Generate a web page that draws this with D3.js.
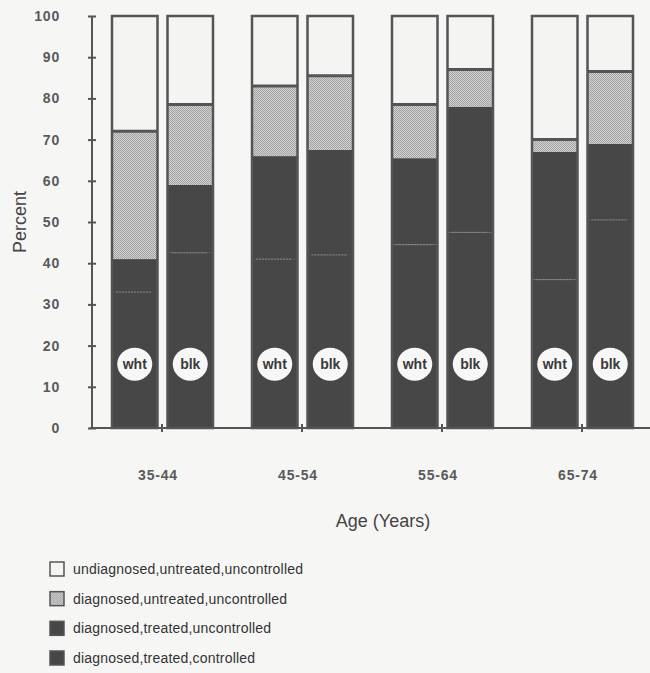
<!DOCTYPE html>
<html>
<head>
<meta charset="utf-8">
<script src="https://cdn.jsdelivr.net/npm/d3@7"></script>
<style>
  body { margin: 0; background: #f6f6f5; }
  svg { font-family: "Liberation Sans", Arial, sans-serif; }
  .axis path, .axis line { stroke: #555; stroke-width: 2; }
  .axis text { fill: #5a5a5a; font-size: 14px; font-weight: bold; letter-spacing: 0.8px; }
</style>
</head>
<body>
<script>
// age groups and the two races drawn in each group
var groups = ['35-44', '45-54', '55-64', '65-74'];
var races = ['wht', 'blk'];

// percent values, one entry per bar, order: 35-44 wht, 35-44 blk, 45-54 wht, ...
var controlled          = [33, 42.5, 41, 42, 44.5, 47.5, 36, 50.5];
var treatedUncontrolled = [8, 16.5, 25, 25.5, 21, 30.5, 31, 18.5];
var untreated           = [31, 19.5, 17, 18, 13, 9, 3, 17.5];
var undiagnosed         = [28, 21.5, 17, 14.5, 21.5, 13, 30, 13.5];

var yTicks = [0, 10, 20, 30, 40, 50, 60, 70, 80, 90, 100];

var legendLabels = ['undiagnosed,untreated,uncontrolled',
                    'diagnosed,untreated,uncontrolled',
                    'diagnosed,treated,uncontrolled',
                    'diagnosed,treated,controlled'];

var W = 650, H = 673;
var dark = '#474747', line = '#555';

// build one row per bar from the arrays
var bars = [];
groups.forEach(function(g, gi) {
    races.forEach(function(r, ri) {
        var i = gi * 2 + ri;
        bars.push({group: g, race: r,
                   controlled: controlled[i],
                   treatedUncontrolled: treatedUncontrolled[i],
                   untreated: untreated[i],
                   undiagnosed: undiagnosed[i]});
    });
});
var keys = ['controlled', 'treatedUncontrolled', 'untreated', 'undiagnosed'];
var stacked = d3.stack().keys(keys)(bars);

var svg = d3.select('body').append('svg')
    .attr('width', W).attr('height', H);

// stipple pattern for the "untreated" layer
var defs = svg.append('defs');
var pat = defs.append('pattern').attr('id', 'stip')
    .attr('width', 2).attr('height', 2).attr('patternUnits', 'userSpaceOnUse');
pat.append('rect').attr('width', 2).attr('height', 2).attr('fill', '#d4d4d4');
pat.append('rect').attr('width', 1).attr('height', 1).attr('fill', '#a0a0a0');
pat.append('rect').attr('x', 1).attr('y', 1).attr('width', 1).attr('height', 1).attr('fill', '#a0a0a0');

var fills = {controlled: dark, treatedUncontrolled: dark, untreated: 'url(#stip)', undiagnosed: '#f4f4f3'};

var x0 = d3.scaleBand().domain(groups).range([92, 652]);
var x1 = d3.scaleBand().domain(races).range([20, 121]).paddingInner(0.18);
var y = d3.scaleLinear().domain([0, 100]).range([428, 16]);

function barX(d) { return x0(d.group) + x1(d.race); }

// stacked layers
stacked.forEach(function(layer) {
    svg.append('g').selectAll('rect').data(layer).join('rect')
        .attr('x', function(d) { return barX(d.data); })
        .attr('width', x1.bandwidth())
        .attr('y', function(d) { return y(d[1]); })
        .attr('height', function(d) { return y(d[0]) - y(d[1]); })
        .attr('fill', fills[layer.key]);
});

// faint line between controlled and treated-uncontrolled
svg.append('g').selectAll('line').data(stacked[0]).join('line')
    .attr('x1', function(d) { return barX(d.data) + 4; })
    .attr('x2', function(d) { return barX(d.data) + x1.bandwidth() - 6; })
    .attr('y1', function(d) { return y(d[1]); })
    .attr('y2', function(d) { return y(d[1]); })
    .attr('stroke', '#8a8a8a').attr('stroke-width', 1).attr('stroke-dasharray', '2,1');

// thick line on top of the stipple layer
svg.append('g').selectAll('line').data(stacked[2]).join('line')
    .attr('x1', function(d) { return barX(d.data); })
    .attr('x2', function(d) { return barX(d.data) + x1.bandwidth(); })
    .attr('y1', function(d) { return y(d[1]); })
    .attr('y2', function(d) { return y(d[1]); })
    .attr('stroke', line).attr('stroke-width', 3);

// bar outlines
svg.append('g').selectAll('rect').data(stacked[3]).join('rect')
    .attr('x', function(d) { return barX(d.data); })
    .attr('width', x1.bandwidth())
    .attr('y', function(d) { return y(d[1]); })
    .attr('height', function(d) { return y(0) - y(d[1]); })
    .attr('fill', 'none').attr('stroke', line).attr('stroke-width', 2.5);

// race labels in white ovals
var lab = svg.append('g').selectAll('g').data(bars).join('g')
    .attr('transform', function(d) {
        return 'translate(' + (barX(d) + x1.bandwidth() / 2) + ',' + y(15.5) + ')';
    });
lab.append('ellipse').attr('rx', 17.5).attr('ry', 16.5).attr('fill', '#f7f7f7');
lab.append('text').attr('text-anchor', 'middle').attr('dy', '0.35em')
    .style('font-size', '14px').style('font-weight', 'bold').style('fill', '#3a3a3a')
    .text(function(d) { return d.race; });

// y axis (ticks cross the line)
var yAxis = svg.append('g').attr('class', 'axis')
    .attr('transform', 'translate(92,0)')
    .call(d3.axisLeft(y).tickValues(yTicks).tickSize(4).tickPadding(28));
yAxis.selectAll('.tick line').attr('x2', 4).attr('x1', -4);
yAxis.select('.domain').attr('d', 'M0,' + y(100) + 'V' + y(0));

// x axis
var xAxis = svg.append('g').attr('class', 'axis')
    .attr('transform', 'translate(0,' + y(0) + ')')
    .call(d3.axisBottom(x0).tickSize(4).tickPadding(38));
xAxis.selectAll('.tick line').attr('y1', -4).attr('y2', 4);
xAxis.selectAll('.tick text').attr('dx', '-4px');
xAxis.select('.domain').attr('d', 'M90,0H650');

// axis titles
svg.append('text')
    .attr('transform', 'translate(26,' + y(50) + ') rotate(-90)')
    .attr('text-anchor', 'middle')
    .style('font-size', '18px').style('fill', '#444')
    .text('Percent');

svg.append('text')
    .attr('x', 383).attr('y', 527)
    .attr('text-anchor', 'middle')
    .style('font-size', '18px').style('fill', '#444')
    .text('Age (Years)');

// legend
var legFill = ['#f4f4f3', 'url(#stip)', dark, dark];
var legY = d3.scalePoint().domain(legendLabels).range([569, 658]);
var leg = svg.append('g').selectAll('g').data(legendLabels).join('g')
    .attr('transform', function(d) { return 'translate(50,' + legY(d) + ')'; });
leg.append('rect').attr('x', 0).attr('y', -7).attr('width', 14).attr('height', 14)
    .attr('fill', function(d, i) { return legFill[i]; })
    .attr('stroke', line).attr('stroke-width', 1.5);
leg.append('text').attr('x', 23).attr('dy', '0.35em')
    .style('font-size', '14px').style('fill', '#333').style('letter-spacing', '0.2px')
    .text(function(d) { return d; });
</script>
</body>
</html>
